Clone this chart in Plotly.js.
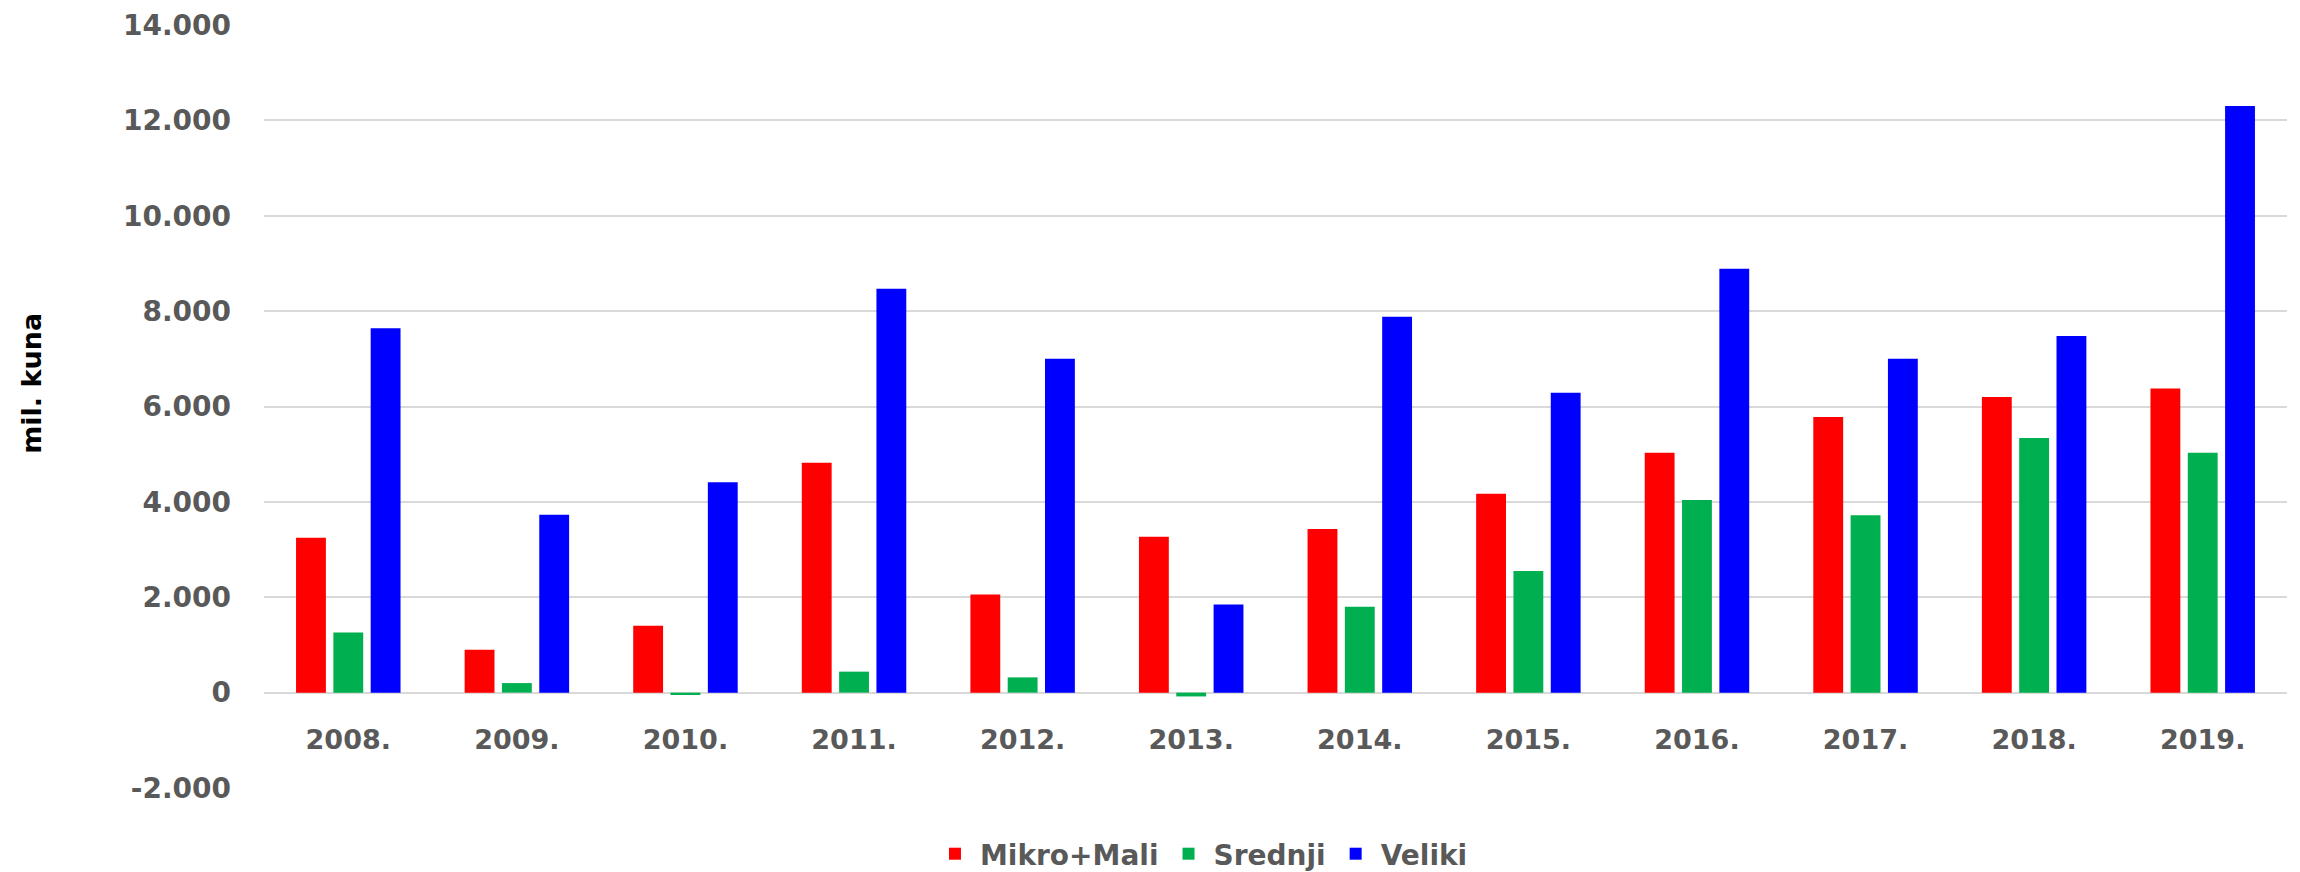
<!DOCTYPE html>
<html>
<head>
<meta charset="utf-8">
<script src="https://cdn.plot.ly/plotly-3.0.1.min.js"></script>
<style>
  html, body { margin: 0; padding: 0; background: #ffffff; }
  #chart { width: 2300px; height: 872px; }
</style>
</head>
<body>
<div id="chart"></div>
<script>
// Categories (years)
const years = ["2008.", "2009.", "2010.", "2011.", "2012.", "2013.", "2014.", "2015.", "2016.", "2017.", "2018.", "2019."];

// Series values (mil. kuna)
const mikroMali = [3250, 900, 1400, 4820, 2060, 3270, 3430, 4170, 5030, 5780, 6200, 6380];
const srednji   = [1260, 200, -50, 440, 320, -80, 1800, 2550, 4040, 3720, 5340, 5030];
const veliki    = [7640, 3730, 4410, 8470, 7000, 1850, 7880, 6290, 8890, 7000, 7480, 12300];

// Series names
const seriesNames = ["Mikro+Mali", "Srednji", "Veliki"];

// Y-axis ticks
const yTickVals = [-2000, 0, 2000, 4000, 6000, 8000, 10000, 12000, 14000];
const yTickText = ["-2.000", "0", "2.000", "4.000", "6.000", "8.000", "10.000", "12.000", "14.000"];

const colors = ["#FF0000", "#00B050", "#0000FF"];
const seriesData = [mikroMali, srednji, veliki];

const traces = seriesData.map((vals, i) => ({
  type: "bar",
  name: seriesNames[i],
  x: years,
  y: vals,
  marker: { color: colors[i], line: { width: 0 } },
  hoverinfo: "x+y+name"
}));

const textGrey = "#595959";
const gridGrey = "#D9D9D9";

const layout = {
  width: 2300,
  height: 872,
  margin: { l: 264, r: 13, t: 25, b: 84, pad: 0, autoexpand: false },
  paper_bgcolor: "#ffffff",
  plot_bgcolor: "#ffffff",
  barmode: "group",
  bargap: 0.336,
  bargroupgap: 0.2,
  separators: ",.",
  showlegend: true,
  legend: {
    orientation: "h",
    x: 0.3292,
    xanchor: "left",
    y: -0.0865,
    yanchor: "middle",
    itemwidth: 40,
    font: { family: "DejaVu Sans, sans-serif", size: 28, color: textGrey, weight: "bold" },
    bgcolor: "rgba(0,0,0,0)",
    itemclick: false
  },
  xaxis: {
    type: "category",
    anchor: "free",
    position: 0.125,
    showgrid: false,
    showline: false,
    zeroline: false,
    ticks: "",
    ticklabelstandoff: 28,
    tickfont: { family: "DejaVu Sans, sans-serif", size: 27, color: textGrey, weight: "bold" }
  },
  yaxis: {
    range: [-2000, 14000],
    tickvals: yTickVals,
    ticktext: yTickText,
    showgrid: true,
    gridcolor: gridGrey,
    gridwidth: 1.5,
    zeroline: false,
    showline: false,
    ticks: "",
    ticklabelstandoff: 32,
    tickfont: { family: "DejaVu Sans, sans-serif", size: 28, color: textGrey, weight: "bold" }
  },
  annotations: [{
    text: "mil. kuna",
    xref: "paper",
    yref: "paper",
    x: -0.1147,
    y: 0.531,
    xanchor: "center",
    yanchor: "middle",
    textangle: -90,
    showarrow: false,
    font: { family: "DejaVu Sans, sans-serif", size: 27, color: "#000000", weight: "bold" }
  }]
};

Plotly.newPlot("chart", traces, layout, { displayModeBar: false, staticPlot: false });
</script>
</body>
</html>
